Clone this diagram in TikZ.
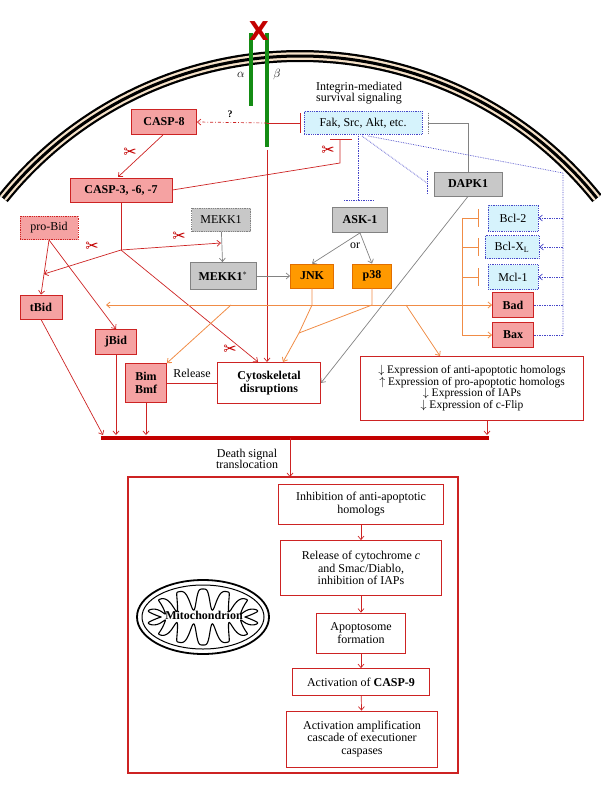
\documentclass[tikz,border=0pt]{standalone}
\usepackage{fontspec}
\setmainfont{Liberation Serif}
\newfontfamily\dvs{DejaVu Sans}
\usetikzlibrary{arrows.meta,calc}
\definecolor{pinkc}{RGB}{245,162,162}
\definecolor{redc}{RGB}{205,35,35}
\definecolor{grayf}{RGB}{200,200,200}
\definecolor{grayd}{RGB}{130,130,130}
\definecolor{orf}{RGB}{255,153,0}
\definecolor{ord}{RGB}{225,110,0}
\definecolor{orl}{RGB}{240,140,70}
\definecolor{cyanf}{RGB}{214,243,252}
\definecolor{blued}{RGB}{70,70,200}
\definecolor{cream}{RGB}{245,225,200}
\definecolor{darkred}{RGB}{195,0,0}
\definecolor{greenc}{RGB}{20,140,20}
\begin{document}
\begin{tikzpicture}[x=1pt,y=-1pt,
  font=\fontsize{12}{13.5}\selectfont,
  tip/.style={-{Straight Barb[length=3.5pt,width=6pt]}},
  bx/.style={draw, inner sep=1pt, align=center, line width=0.8pt},
  pinkb/.style={bx, fill=pinkc, draw=redc, font=\fontsize{12}{13.5}\selectfont\bfseries},
  pinkd/.style={bx, fill=pinkc, draw=redc, densely dotted},
  grayb/.style={bx, fill=grayf, draw=grayd, font=\fontsize{12}{13.5}\selectfont\bfseries},
  grayd/.style={bx, fill=grayf, draw=grayd, densely dotted},
  orb/.style={bx, fill=orf, draw=ord, font=\fontsize{12}{13.5}\selectfont\bfseries},
  cyb/.style={bx, fill=cyanf, draw=blued, densely dotted},
  wb/.style={bx, fill=white, draw=redc},
  rl/.style={draw=redc, line width=0.7pt},
  gl/.style={draw=grayd, line width=0.7pt},
  ol/.style={draw=orl, line width=0.8pt},
  bl/.style={draw=blued, densely dotted, line width=0.7pt},
  sc/.style={text=darkred, font=\dvs\fontsize{16}{16}\selectfont},
]
\useasboundingbox (0,0) rectangle (600,794);
% membrane
\foreach \w/\c in {12/black,7.5/cream,3/black}{
  \draw[line width=\w pt, color=\c] plot[domain=-141.2:-38.8, samples=80] ({300+381*cos(\x)},{437+381*sin(\x)});
}
% integrin
\draw[greenc, line width=3.5pt] (251,33) -- (251,106);
\draw[greenc, line width=3.5pt] (267,33) -- (267,147);
\node[text=darkred, font=\fontsize{26}{26}\selectfont\bfseries\dvs] (x) at (259,31) {X};
\node[font=\fontsize{12}{13}\selectfont] (al) at (241,75) {$\alpha$};
\node[font=\fontsize{12}{13}\selectfont] (be) at (277,75) {$\beta$};
% nodes
\node[pinkb, minimum width=65pt, minimum height=25pt] (casp8) at (164,122) {CASP-8};
\node[pinkb, minimum width=102pt, minimum height=24pt] (casp3) at (121,190) {CASP-3, -6, -7};
\node[cyb, minimum width=118pt, minimum height=23pt] (fak) at (363,123) {Fak, Src, Akt, etc.};
\node[align=center] (ims) at (359,93) {Integrin-mediated\\[-2pt]survival signaling};
\node[grayb, minimum width=68pt, minimum height=24pt] (dapk) at (468,184) {DAPK1};
\node[grayb, minimum width=55pt, minimum height=25pt] (ask) at (360,220) {ASK-1};
\node[grayd, minimum width=59pt, minimum height=23pt] (mekk) at (221,220) {MEKK1};
\node[grayb, minimum width=66pt, minimum height=27pt] (mekks) at (223,276) {MEKK1$^{*}$};
\node[orb, minimum width=43pt, minimum height=24pt] (jnk) at (312,276) {JNK};
\node[orb, minimum width=39pt, minimum height=24pt] (p38) at (372,276) {p38};
\node (or) at (355,246) {or};
\node[pinkd, minimum width=58pt, minimum height=23pt] (probid) at (49,228) {pro-Bid};
\node[pinkb, minimum width=42pt, minimum height=24pt] (tbid) at (41,307) {tBid};
\node[pinkb, minimum width=41pt, minimum height=25pt] (jbid) at (116,342) {jBid};
\node[pinkb, minimum width=41pt, minimum height=39pt] (bim) at (146,383) {Bim\\[-1pt]Bmf};
\node[wb, minimum width=103pt, minimum height=41pt, font=\fontsize{12}{13.5}\selectfont\bfseries] (cyto) at (269,383) {Cytoskeletal\\[-1pt]disruptions};
\node (rel) at (192,373) {Release};
\node[cyb, minimum width=50pt, minimum height=26pt] (bcl2) at (513,218) {Bcl-2};
\node[cyb, minimum width=54pt, minimum height=23pt] (bclxl) at (512,247) {Bcl-X\textsubscript{L}};
\node[cyb, minimum width=50pt, minimum height=25pt] (mcl1) at (513,277) {Mcl-1};
\node[pinkb, minimum width=41pt, minimum height=25pt] (bad) at (513,305) {Bad};
\node[pinkb, minimum width=41pt, minimum height=25pt] (bax) at (513,335) {Bax};
\node[wb, minimum width=223pt, minimum height=64pt, align=center, font=\fontsize{11.5}{13}\selectfont] (expr) at (472,388)
 {$\downarrow$ Expression of anti-apoptotic homologs\\[-1.5pt]
  $\uparrow$ Expression of pro-apoptotic homologs\\[-1.5pt]
  $\downarrow$ Expression of IAPs\\[-1.5pt]
  $\downarrow$ Expression of c-Flip};
% casp8 arrow from beta
\coordinate (b1) at (267,123);
\draw[rl, tip, dash dot] (b1) -- (casp8.east);
\node[font=\fontsize{10}{11}\selectfont\bfseries] (q) at (230,114) {?};
\coordinate (fb) at (300,123);
\draw[rl] (b1) -- (fb);
\draw[rl, line width=1pt] (300,113) -- (300,133);
\coordinate (gb) at (428,123);
\draw[gl] (dapk.north) |- (gb);
\draw[grayd, line width=1pt] (428,113) -- (428,133);
\coordinate (c3a) at (340,163);
\coordinate (c3b) at (340,140);
\draw[rl] (casp3.east) -- (c3a) -- (c3b);
\draw[rl, line width=1pt] (330,140) -- (352,140);
\draw[rl, tip] (casp8.south) ++(-1,0) -- (118,177);
% beta to cyto
\coordinate (b2) at (267,150);
\draw[rl, tip] (b2) -- (267,362);
% CASP-3 junction
\coordinate (J) at (121,250);
\draw[rl] (casp3.south) -- (J);
\draw[rl, tip] (J) -- (44,274);
\draw[rl, tip] (J) -- (221,243);
\draw[rl, tip] (J) -- (258,362);
\coordinate (pb) at (49,240);
\draw[rl, tip] (pb) -- (tbid.north);
\draw[rl, tip] (pb) -- (jbid.north);
% gray
\draw[gl, tip] (mekk) -- (mekks);
\draw[gl, tip] (mekks) -- (jnk);
\draw[gl, tip] (ask.south) -- (jnk.north);
\draw[gl, tip] (ask.south) -- (p38.north);
\draw[gl, tip] (dapk.south) -- (cyto.east);
% death bar
\coordinate (d1) at (101,438); \coordinate (d2) at (489,438);
\draw[darkred, line width=3.5pt] (d1) -- (d2);
\draw[rl, tip] (tbid.south) -- (103,435);
\draw[rl, tip] (jbid.south) -- (116,435);
\draw[rl, tip] (bim.south) -- (146,435);
\draw[rl, tip] (expr.south -| 487,0) -- (487,435);
\draw[rl] (bim.east) -- (cyto.west);
% orange
\draw[ol, {Straight Barb[length=3.5pt,width=6pt]}-{Straight Barb[length=3.5pt,width=6pt]}] (106,305) -- (bad.west);
\coordinate (m) at (299,333);
\draw[ol] (jnk.south) -- (312,305) -- (m);
\draw[ol] (p38.south) -- (372,305) -- (m);
\draw[ol, tip] (m) -- (283,362);
\draw[ol, tip] (231,305) -- (bim.north east);
\draw[ol, tip] (406,305) -- (440,356);
\draw[ol] (462,218) -- (462,335);
\foreach \yy in {218,247,277}{
  \draw[ol] (462,\yy) -- (478,\yy);
  \draw[orl, line width=1pt] (478,\yy-9) -- (478,\yy+9);
}
\draw[ol, tip] (462,335) -- (bax.west);
% blue dotted
\draw[bl] (358,136) -- (358,200);
\draw[bl] (344,200) -- (374,200);
\coordinate (dl) at (427,183);
\draw[bl] (362,136) -- (dl);
\draw[bl] (427,171) -- (427,194);
\draw[bl] (368,136) -- (563,173) -- (563,335);
\foreach \n in {bcl2,bclxl,mcl1}{ \draw[bl, tip] (563,0 |- \n.east) -- (\n.east); }
\draw[bl] (563,305) -- (bad.east);
\draw[bl] (563,335) -- (bax.east);
% scissors
\node[sc] (s1) at (130,153) {\char"2702};
\node[sc] (s2) at (328,151) {\char"2702};
\node[sc] (s3) at (92,247) {\char"2702};
\node[sc] (s4) at (179,237) {\char"2702};
\node[sc] (s5) at (230,350) {\char"2702};
% bottom
\node[align=center] (dst) at (247,459) {Death signal\\[-2pt]translocation};
\draw[rl, line width=1.2pt] (128,477) rectangle (458,773);
\coordinate (bt) at (290,477);
\draw[rl, tip] (290,438) -- (bt);
\node[wb, minimum width=165pt, minimum height=40pt] (m1) at (361,504) {Inhibition of anti-apoptotic\\[-1pt]homologs};
\node[wb, minimum width=161pt, minimum height=55pt] (m2) at (361,568) {Release of cytochrome \textit{c}\\[-1pt]and Smac/Diablo,\\[-1pt]inhibition of IAPs};
\node[wb, minimum width=89pt, minimum height=40pt] (m3) at (361,633) {Apoptosome\\[-1pt]formation};
\node[wb, minimum width=137pt, minimum height=27pt] (m4) at (361,682) {Activation of \textbf{CASP-9}};
\node[wb, minimum width=151pt, minimum height=56pt] (m5) at (362,739) {Activation amplification\\[-1pt]cascade of executioner\\[-1pt]caspases};
\draw[rl, tip] (m1) -- (m2);
\draw[rl, tip] (m2) -- (m3);
\draw[rl, tip] (m3) -- (m4);
\draw[rl, tip] (m4) -- (m5);
% mitochondrion
\draw[line width=1.8pt] (203,617) ellipse [x radius=66pt, y radius=37pt];
\draw[line width=1pt] (203,617) ellipse [x radius=61pt, y radius=32pt];
\draw[line width=1.1pt] plot[domain=0:360, samples=500, smooth] ({203+56*cos(\x)*(1-0.25*(0.5+0.5*cos(14*\x)))},{617+28*sin(\x)*(1-0.75*(0.5+0.5*cos(14*\x))*(0.5+0.5*cos(14*\x)))}) -- cycle;
\node[font=\fontsize{12}{13}\selectfont\bfseries] (mito) at (204,615) {Mitochondrion};
\end{tikzpicture}
\end{document}
